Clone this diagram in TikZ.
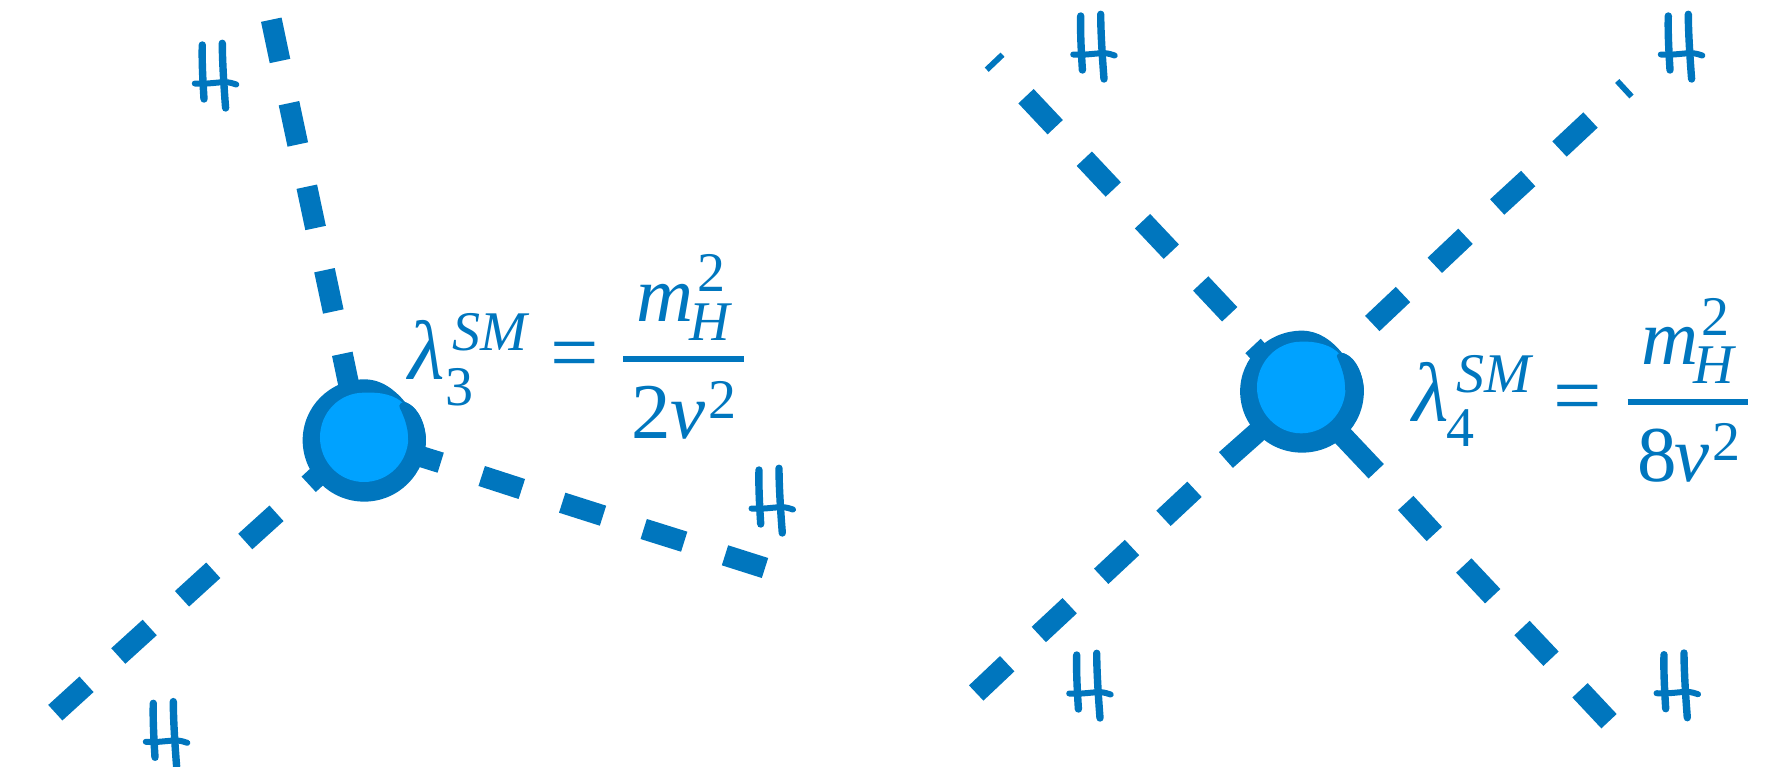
\documentclass[tikz,border=0pt]{standalone}
\usepackage{fontspec}
\setmainfont{Liberation Serif}
\definecolor{mblue}{HTML}{0076BE}
\definecolor{lblue}{HTML}{00A2FF}
\tikzset{
  seg/.style={draw=mblue,line width=21pt},
  tip/.style={draw=mblue,line width=5.8pt},
  stroke/.style={draw=mblue,line width=7.4pt,line cap=round,line join=round},
  big/.style={anchor=base west,inner sep=0pt,outer sep=0pt,text=mblue,font=\fontsize{79}{79}\selectfont\itshape},
  bigger/.style={big,font=\fontsize{84}{84}\selectfont\itshape},
  small/.style={anchor=base west,inner sep=0pt,outer sep=0pt,text=mblue,font=\fontsize{56}{56}\selectfont\itshape},
  upbig/.style={big,font=\fontsize{79}{79}\selectfont},
  upsmall/.style={small,font=\fontsize{56}{56}\selectfont},
  eqs/.style={anchor=base west,inner sep=0pt,outer sep=0pt,text=mblue,font=\fontsize{86}{86}\selectfont},
  frule/.style={draw=mblue,line width=6pt},
}
\newcommand{\higgs}[2]{%
  \begin{scope}[shift={(#1,#2)}]
    \draw[stroke] (0,0) .. controls (-0.5,15) and (0.5,35) .. (1.7,54);
    \draw[stroke] (20,-1.7) .. controls (20,15) and (21.5,40) .. (23.3,63);
    \draw[stroke,line width=6pt] (-7.5,38.5) .. controls (5,39.5) and (15,37) .. (24,37.2) .. controls (28,37.5) and (31,38.5) .. (34,39.5);
  \end{scope}}
\begin{document}
\begin{tikzpicture}[x=1pt,y=-1pt]
\useasboundingbox (0,0) rectangle (1788,767);
% left vertex
\foreach \a/\b/\c/\d in {271.3/19.7/280/61, 289/103.2/297.8/144.5, 306.8/186.7/315.6/228, 324.5/270.2/333.3/311.5, 342.3/353.8/352/400}
  \draw[seg] (\a,\b) -- (\c,\d);
\foreach \a/\b/\c/\d in {55.3/712.7/86.5/684.3, 118.3/656/149.7/627.5, 182/598.8/213.3/570.3, 245.3/541.5/276.5/513.3, 308.7/484.3/335/460}
  \draw[seg] (\a,\b) -- (\c,\d);
\foreach \a/\b/\c/\d in {400/450/440.7/462.7, 481.7/476/521.8/489, 562.2/502.7/603/515.7, 643.7/529/684.2/541.7, 725/555.3/765/568}
  \draw[seg] (\a,\b) -- (\c,\d);
\begin{scope}[shift={(250,280)},x=0.3333pt,y=-0.3333pt]
  \fill[mblue] (158,481) .. controls (158,380) and (240,298) .. (343,298) .. controls (395,298) and (435,330) .. (465,366) .. controls (505,380) and (528,435) .. (528,481) .. controls (528,582) and (445,665) .. (343,665) .. controls (240,665) and (158,582) .. (158,481) -- cycle;
  \fill[lblue] (210,472) .. controls (210,398) and (268,338) .. (342,338) .. controls (395,336) and (435,345) .. (462,372) .. controls (468,410) and (475,440) .. (475,472) .. controls (475,546) and (416,606) .. (342,606) .. controls (268,606) and (210,546) .. (210,472) -- cycle;
  \fill[mblue] (450,385) .. controls (460,405) and (475,440) .. (475,480) -- (528,480) .. controls (526,440) and (510,385) .. (470,368) .. controls (455,362) and (443,375) .. (450,385) -- cycle;
\end{scope}
% right vertex
\draw[tip] (986.7,69.7) -- (1002.5,54.7);
\foreach \a/\b/\c/\d in {1026/96.2/1055.2/127.2, 1084.3/158.7/1113.3/189.5, 1142.5/221.2/1171.3/251.7, 1200.7/283.5/1229.7/314.3, 1253/346/1285/380}
  \draw[seg] (\a,\b) -- (\c,\d);
\draw[tip] (1617.2,81) -- (1631.5,96.5);
\foreach \a/\b/\c/\d in {1372.3/323.5/1403/294.5, 1434.8/265.3/1465.5/236.3, 1497.2/207/1528.2/178.5, 1559.5/149/1590.5/120}
  \draw[seg] (\a,\b) -- (\c,\d);
\foreach \a/\b/\c/\d in {976.2/693/1007.2/663.7, 1038.8/634.5/1069.7/605.7, 1101.2/576.3/1132/547.5, 1163.5/518.3/1194.5/489.3, 1225.9/460/1262/428}
  \draw[seg] (\a,\b) -- (\c,\d);
\foreach \a/\b/\c/\d in {1340/433/1376.2/471.3, 1405.7/503/1434.3/534, 1463.8/565.5/1492.7/596.2, 1522/628/1551/658.7, 1580/690.3/1609/721.2}
  \draw[seg] (\a,\b) -- (\c,\d);
\begin{scope}[shift={(1200,290)},x=0.375pt,y=-0.3333pt]
  \fill[mblue] (107,304) .. controls (107,205) and (180,122) .. (272,122) .. controls (315,122) and (350,150) .. (378,188) .. controls (415,200) and (437,255) .. (437,304) .. controls (437,405) and (365,488) .. (272,488) .. controls (180,488) and (107,405) .. (107,304) -- cycle;
  \fill[lblue] (152,292) .. controls (152,216) and (205,155) .. (270,155) .. controls (310,153) and (350,165) .. (372,192) .. controls (380,230) and (388,260) .. (388,292) .. controls (388,368) and (335,430) .. (270,430) .. controls (205,430) and (152,368) .. (152,292) -- cycle;
  \fill[mblue] (367,205) .. controls (375,225) and (388,260) .. (387,300) -- (437,300) .. controls (435,260) and (420,205) .. (385,190) .. controls (370,185) and (360,195) .. (367,205) -- cycle;
\end{scope}
% H labels
\higgs{202.3}{45}
\higgs{153.3}{703.3}
\higgs{759}{470}
\higgs{1080.7}{16}
\higgs{1668.3}{16}
\higgs{1076.7}{655}
\higgs{1664}{654.7}
% left formula
\node[bigger] (l3) at (408,379) {λ};
\node[small] (sm3) at (452,350) {SM};
\node[upsmall] (s3) at (445,405) {3};
\node[eqs] (eq3) at (550,381) {=};
\node[big] (m3) at (636,321) {m};
\node[upsmall] (ms3) at (697,292) {2};
\node[small] (h3) at (689,341) {H};
\draw[frule] (623,359) -- (744,359);
\node[upbig] (d3) at (631,438) {2};
\node[big] (v3) at (670,438) {v};
\node[upsmall] (vs3) at (708,418) {2};
% right formula
\node[bigger] (l4) at (1412.5,421.7) {λ};
\node[small] (sm4) at (1456,392.7) {SM};
\node[upsmall] (s4) at (1446,446.7) {4};
\node[eqs] (eq4) at (1553,424) {=};
\node[big] (m4) at (1641,364) {m};
\node[upsmall] (ms4) at (1701,335) {2};
\node[small] (h4) at (1693,383) {H};
\draw[frule] (1627.5,402) -- (1747.5,402);
\node[upbig] (d4) at (1637,481.7) {8};
\node[big] (v4) at (1674,481.7) {v};
\node[upsmall] (vs4) at (1712,460) {2};
\end{tikzpicture}
\end{document}
